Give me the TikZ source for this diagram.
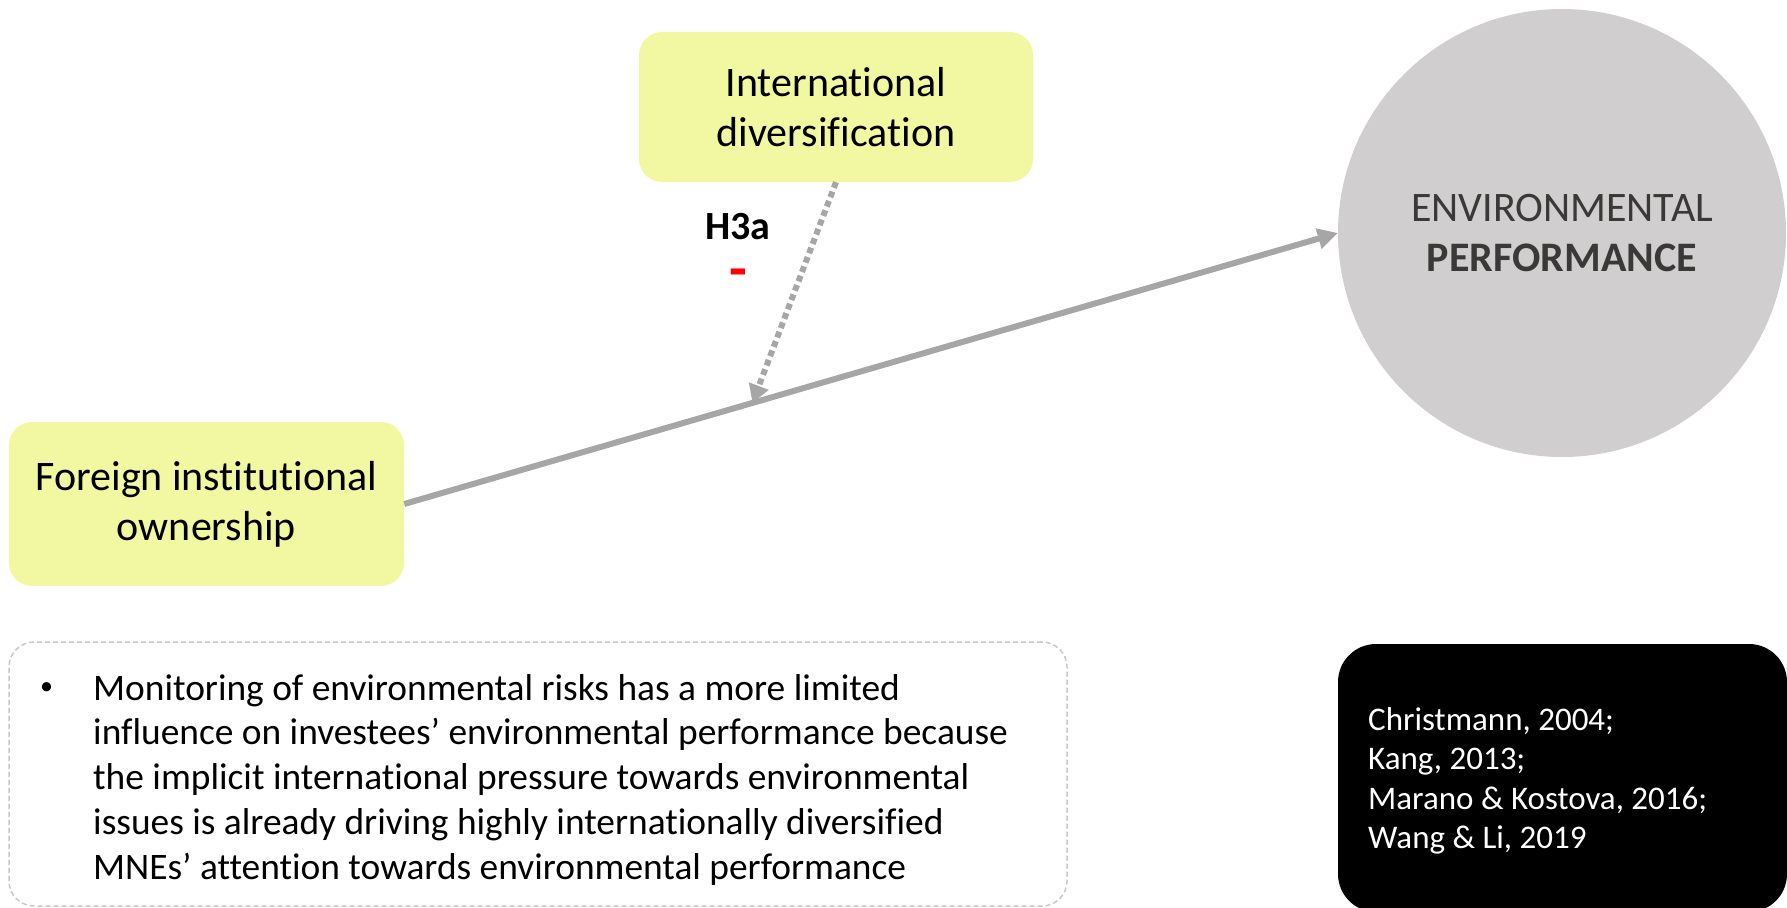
\documentclass[tikz,border=0pt]{standalone}
\usepackage{fontspec}
\setmainfont{Carlito}[RawFeature={-liga;-clig;-dlig;-calt}]
\usetikzlibrary{arrows.meta}

\definecolor{boxyellow}{HTML}{F2F8A2}
\definecolor{circlegray}{HTML}{D0CECE}
\definecolor{linkgray}{HTML}{A6A6A6}
\definecolor{framegray}{HTML}{C8C8C8}
\definecolor{darktext}{HTML}{3B3838}

\begin{document}
\begin{tikzpicture}[x=1pt,y=-1pt,
  construct/.style={rectangle, rounded corners=23pt, fill=boxyellow, align=center,
    inner sep=0pt, font=\fontsize{42}{50}\selectfont},
  outcome/.style={circle, fill=circlegray, minimum size=448pt, inner sep=0pt,
    align=center, text=darktext, font=\fontsize{42}{50}\selectfont},
  mainlink/.style={draw=linkgray, line width=6pt,
    -{Triangle[length=20pt,width=20pt]}},
  modlink/.style={draw=linkgray, line width=6pt, dash pattern=on 6pt off 4pt,
    -{Triangle[length=18pt,width=20pt]}},
  notebox/.style={rectangle, rounded corners=25pt, draw=framegray, line width=1.5pt,
    dash pattern=on 5pt off 3pt, inner sep=0pt},
  notefont/.style={font=\fontsize{37.4}{44.8}\selectfont, inner sep=0pt},
  citebox/.style={rectangle, rounded corners=38pt, fill=black, inner sep=0pt},
  citefont/.style={font=\fontsize{33}{39.2}\selectfont, text=white, inner sep=0pt}
]
\useasboundingbox (0,0) rectangle (1787,907);
\clip (0,0) rectangle (1787,907);

% constructs
\node[construct, minimum width=395pt, minimum height=164pt] (fio) at (206.5,504)
  {Foreign institutional\\ownership};
\node[construct, minimum width=394pt, minimum height=150pt] (intl) at (836,107)
  {International\\diversification};
\node[outcome] (env) at (1562,233) {ENVIRONMENTAL\\\textbf{PERFORMANCE}};

% direct effect and moderation
\path (fio.east) -- (env.west) coordinate[pos=0.373] (hit);
\draw[mainlink] (fio.east) -- (env.west);
\draw[modlink] (intl.south) -- (hit);

% hypothesis label with its expected sign
\node[align=center, anchor=base, inner sep=0pt,
      font=\fontsize{40}{48.5}\selectfont\bfseries] (hyp)
  at (738,288) {H3a\\\textcolor{red}{\fontsize{58}{48.5}\selectfont -}};

% rationale
\node[notebox, minimum width=1058pt, minimum height=264pt] (note) at (538,774) {};
\node[anchor=base, inner sep=0pt, font=\fontsize{26}{30}\selectfont] (bullet)
  at (46.7,694.5) {•};
\node[notefont, anchor=north west, align=left] (notetext) at (93,668.5)
  {\strut Monitoring of environmental risks has a more limited\\
   influence on investees’ environmental performance because\\
   the implicit international pressure towards environmental\\
   issues is already driving highly internationally diversified\\
   MNEs’ attention towards environmental performance};

% references
\node[citebox, minimum width=449pt, minimum height=268pt] (refs) at (1562.5,778) {};
\node[citefont, anchor=north west, align=left] (reftext) at (1368,703)
  {\strut Christmann, 2004;\\Kang, 2013;\\Marano \& Kostova, 2016;\\Wang \& Li, 2019};
\end{tikzpicture}
\end{document}
